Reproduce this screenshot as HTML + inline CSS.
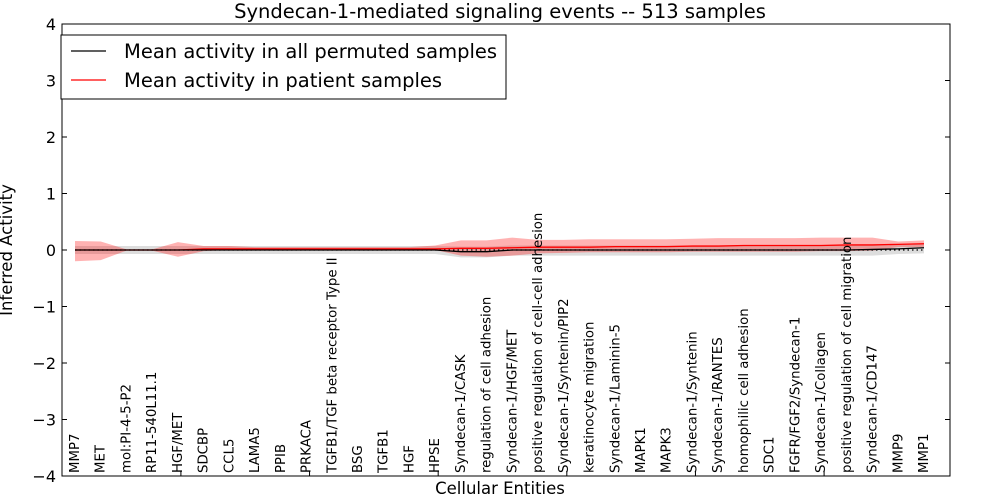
<!DOCTYPE html>
<html><head><meta charset="utf-8"><style>
body{margin:0;background:#fff;}
svg{display:block;font-family:"DejaVu Sans","Liberation Sans",sans-serif;}
</style></head><body>
<svg id="chart" width="1000" height="500">
<rect x="0" y="0" width="1000" height="500" fill="#fff"/>
<text x="500" y="18" text-anchor="middle" font-size="19.5">Syndecan-1-mediated signaling events -- 513 samples</text>
<g id="plot"></g>
<text x="500" y="494" text-anchor="middle" font-size="16.5">Cellular Entities</text>
<text transform="translate(12,250) rotate(-90)" text-anchor="middle" font-size="16.5">Inferred Activity</text>
<g>
<rect x="61" y="35" width="445" height="64" fill="#fff" stroke="#000" stroke-width="1"/>
<g>
<line x1="71" y1="51" x2="106" y2="51" stroke="#000" stroke-width="1.3"/>
<text x="124" y="58" font-size="19.5">Mean activity in all permuted samples</text></g>
<g>
<line x1="71" y1="80" x2="106" y2="80" stroke="#f00" stroke-width="1.3"/>
<text x="124" y="87" font-size="19.5">Mean activity in patient samples</text></g>
</g>
</svg>
<script>
const categories=["MMP7","MET","mol:PI-4-5-P2","RP11-540L11.1","HGF/MET","SDCBP","CCL5","LAMA5","PPIB","PRKACA","TGFB1/TGF beta receptor Type II","BSG","TGFB1","HGF","HPSE","Syndecan-1/CASK","regulation of cell adhesion","Syndecan-1/HGF/MET","positive regulation of cell-cell adhesion","Syndecan-1/Syntenin/PIP2","keratinocyte migration","Syndecan-1/Laminin-5","MAPK1","MAPK3","Syndecan-1/Syntenin","Syndecan-1/RANTES","homophilic cell adhesion","SDC1","FGFR/FGF2/Syndecan-1","Syndecan-1/Collagen","positive regulation of cell migration","Syndecan-1/CD147","MMP9","MMP1"];
const patientMean=[0,0,0,0,0,0.02,0.02,0.02,0.02,0.02,0.02,0.02,0.02,0.02,0.02,0.03,0.03,0.04,0.05,0.05,0.05,0.06,0.06,0.06,0.07,0.07,0.08,0.08,0.08,0.08,0.09,0.09,0.1,0.11];
const patientHigh=[0.16,0.15,0.01,0.01,0.14,0.07,0.07,0.05,0.05,0.05,0.05,0.05,0.05,0.05,0.08,0.17,0.17,0.22,0.18,0.18,0.19,0.19,0.19,0.19,0.2,0.21,0.21,0.21,0.21,0.22,0.22,0.22,0.15,0.17];
const patientLow=[-0.2,-0.18,-0.01,-0.01,-0.12,-0.02,0,0,0,0,0,0,0,0,0,-0.1,-0.12,-0.1,-0.06,-0.05,-0.04,-0.04,-0.04,-0.04,-0.03,-0.03,-0.03,-0.03,-0.03,-0.02,-0.02,-0.01,0.05,0.05];
const permMean=[0,0,0,0,0,0,0,0,0,0,0,0,0,0,0,-0.03,-0.03,0,0,0,0,0,0,0,0,0,0,0,0,0,0,0.01,0.02,0.04];
const permHigh=[0.07,0.07,0.07,0.07,0.07,0.07,0.07,0.07,0.07,0.07,0.07,0.07,0.07,0.07,0.07,0.06,0.06,0.08,0.08,0.08,0.08,0.08,0.08,0.08,0.08,0.08,0.08,0.08,0.08,0.08,0.08,0.09,0.1,0.12];
const permLow=[-0.07,-0.07,-0.07,-0.07,-0.07,-0.07,-0.07,-0.07,-0.07,-0.07,-0.07,-0.07,-0.07,-0.07,-0.07,-0.13,-0.13,-0.1,-0.1,-0.1,-0.1,-0.1,-0.1,-0.1,-0.1,-0.1,-0.1,-0.1,-0.1,-0.1,-0.1,-0.1,-0.07,-0.06];
const yTicks=[-4,-3,-2,-1,0,1,2,3,4];
const yTickLabels=["\u22124","\u22123","\u22122","\u22121","0","1","2","3","4"];

const L=62,R=950,T=24,B=476;
const xs=i=>75+i*(924-75)/(categories.length-1);
const ys=v=>250-v*(B-T)/8;
const NS="http://www.w3.org/2000/svg";
const g=document.getElementById('plot');
function mk(tag,attrs){const e=document.createElementNS(NS,tag);for(const k in attrs)e.setAttribute(k,attrs[k]);g.appendChild(e);return e;}
function band(hi,lo){let d="M"+hi.map((v,i)=>xs(i)+","+ys(v)).join("L");for(let i=lo.length-1;i>=0;i--)d+="L"+xs(i)+","+ys(lo[i]);return d+"Z";}
function line(a){return "M"+a.map((v,i)=>xs(i)+","+ys(v)).join("L");}
let e;
e=mk('path',{d:band(permHigh,permLow),fill:'#aaa','fill-opacity':0.4,stroke:'none'});


e=mk('path',{d:band(patientHigh,patientLow),fill:'#f00','fill-opacity':0.3,stroke:'none'});


e=mk('line',{x1:xs(0),x2:xs(categories.length-1),y1:ys(0),y2:ys(0),stroke:'#000','stroke-dasharray':'1.5,3','stroke-width':1.2});


e=mk('path',{d:line(patientMean),fill:'none',stroke:'#f00','stroke-width':1.3});


e=mk('path',{d:line(permMean),fill:'none',stroke:'#000','stroke-width':1.3});


e=mk('rect',{x:L,y:T,width:R-L,height:B-T,fill:'none',stroke:'#000','stroke-width':1});


yTicks.forEach((v,i)=>{
  const y=ys(v);
  e=mk('line',{x1:L,x2:L+5,y1:y,y2:y,stroke:'#000'});
  
  
  e=mk('line',{x1:R-5,x2:R,y1:y,y2:y,stroke:'#000'});
  
  
  e=mk('text',{x:L-6,y:y+6,'text-anchor':'end','font-size':16});
  e.textContent=yTickLabels[i];
  
  
});
categories.forEach((c,i)=>{
  const x=xs(i);
  if(i%5===4){
    e=mk('line',{x1:x+3,x2:x+3,y1:B-5,y2:B,stroke:'#000'});
    
    
  }
  e=mk('text',{transform:`translate(${x+4},${B-3}) rotate(-90)`,'font-size':13.3});
  e.textContent=c;
  
  
});
</script>
</body></html>
